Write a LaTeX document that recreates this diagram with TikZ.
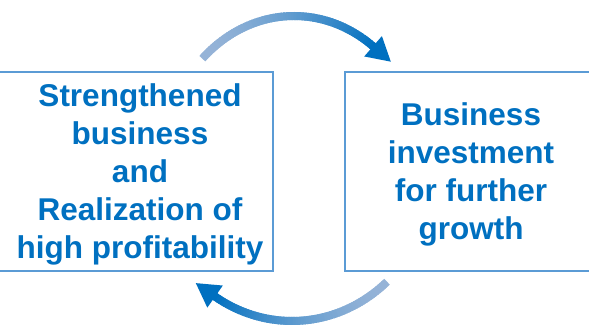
\documentclass[tikz,border=0pt]{standalone}
\usepackage{fontspec}
\setmainfont{Liberation Sans}
\definecolor{txtblue}{HTML}{0070C0}
\definecolor{boxline}{HTML}{5B9BD5}
\definecolor{arrlight}{HTML}{95B3D7}
\definecolor{arrdark}{HTML}{0070C0}

% Curved arrow with a colour gradient along an elliptic arc.
% #1,#2 centre; #3,#4 radii; #5 start angle (tail); #6 end angle (head base)
\newcommand\cyclearrow[6]{%
  \foreach \i in {0,...,69}{%
    \pgfmathsetmacro\ta{#5+\i*(#6-#5)/70}%
    \pgfmathsetmacro\tb{#5+(\i+1.7)*(#6-#5)/70}%
    \pgfmathtruncatemacro\p{100*(\i/69)^1.6}%
    \ifnum\i>67 \pgfmathsetmacro\tb{#6+0.4*(#6-#5)/70}\fi
    \draw[line width=8pt, color=arrdark!\p!arrlight]
      ({#1+#3*cos(\ta)},{#2+#4*sin(\ta)}) -- ({#1+#3*cos(\tb)},{#2+#4*sin(\tb)});
  }%
  \pgfmathsetmacro\hx{#1+#3*cos(#6)}%
  \pgfmathsetmacro\hy{#2+#4*sin(#6)}%
  \pgfmathsetmacro\sgn{(#6<#5) ? 1 : -1}%
  \pgfmathsetmacro\hang{atan2(-\sgn*#4*cos(#6), \sgn*#3*sin(#6))}%
  \fill[arrdark, shift={(\hx,\hy)}, rotate=\hang]
    (-0.5,13.5) -- (-0.5,-13.5) -- (23,0) -- cycle;
}

\begin{document}
\begin{tikzpicture}[x=1pt, y=1pt,
  box/.style={draw=boxline, line width=1.3pt, inner sep=0pt},
  boxtext/.style={text=txtblue, align=center, inner sep=0pt,
    font=\fontsize{31.5}{38}\selectfont\bfseries}]
  \useasboundingbox (0,0) rectangle (589,328);
  \clip (0,0) rectangle (589,328);

  % the two boxes of the cycle
  \node[box, minimum width=300pt, minimum height=199pt] (leftbox) at (123,156.5) {};
  \node[box, minimum width=275pt, minimum height=199pt] (rightbox) at (482.5,156.5) {};

  \node[boxtext] (lefttext) at (140,154)
    {Strengthened\\business\\and\\Realization of\\high profitability};
  \node[boxtext] (righttext) at (471,153.5)
    {Business\\investment\\for further\\growth};

  % upper arrow: left box to right box
  \cyclearrow{294}{160}{132}{152}{134}{53}
  % lower arrow: right box back to left box
  \cyclearrow{292}{160}{142}{153}{-48}{-123}
\end{tikzpicture}
\end{document}
